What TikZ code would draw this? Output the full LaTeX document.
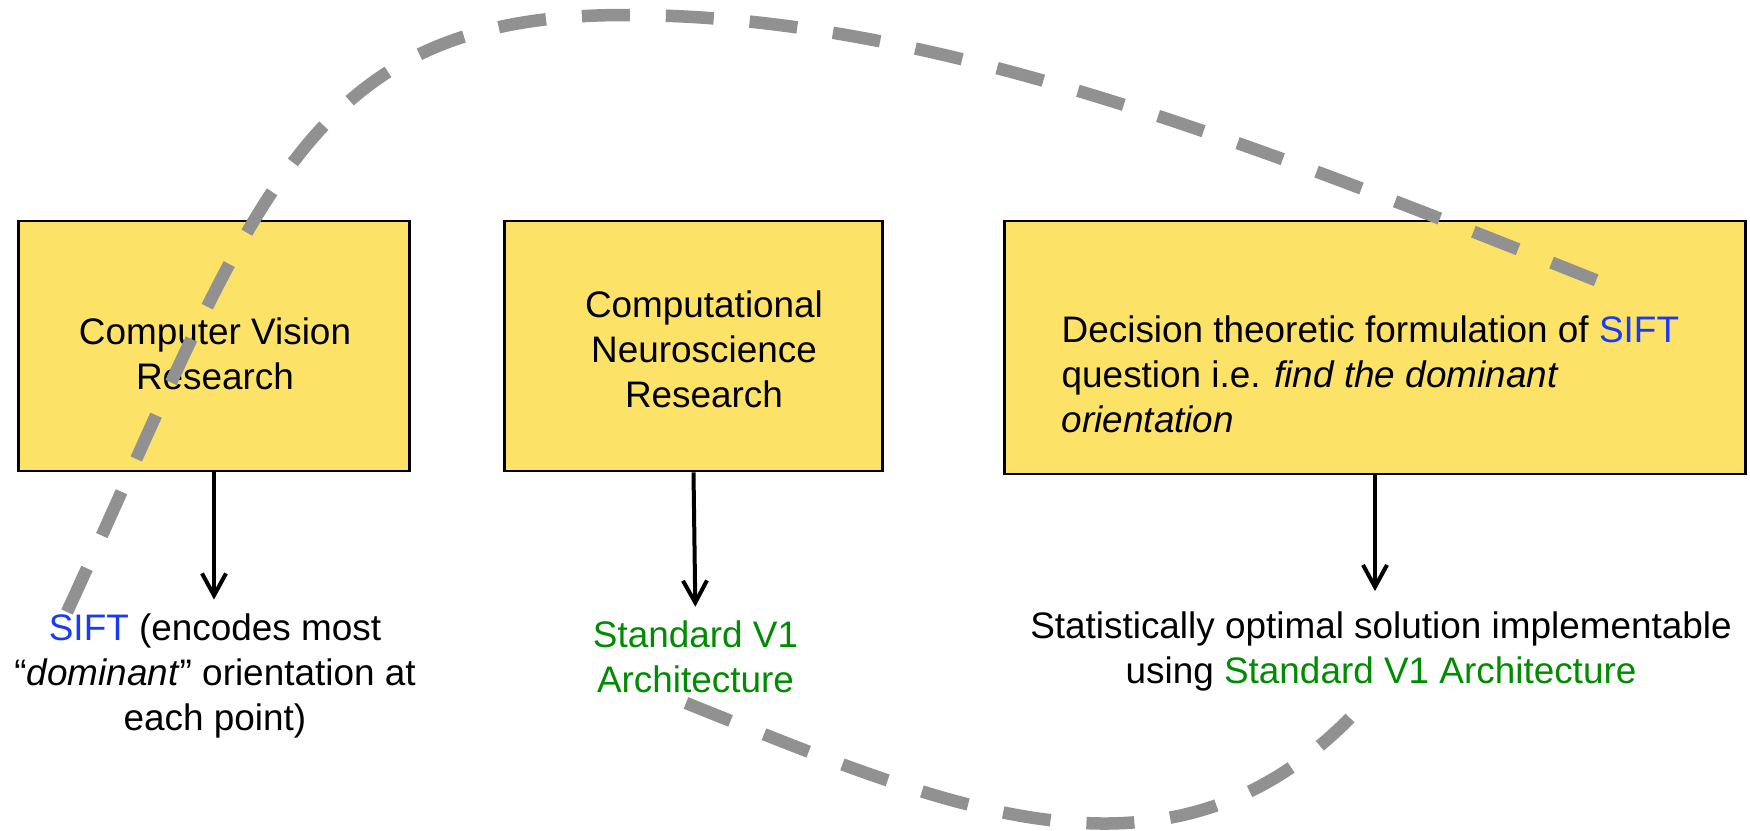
\documentclass[tikz,border=0pt]{standalone}
\usepackage{fontspec}
\setmainfont{Liberation Sans}
\usetikzlibrary{arrows.meta,positioning}
\definecolor{BoxYellow}{RGB}{252,226,102}
\definecolor{SiftBlue}{RGB}{26,58,250}
\definecolor{VoneGreen}{RGB}{0,140,0}
\definecolor{LinkGray}{RGB}{145,145,145}
\newcommand{\siftword}{\textcolor{SiftBlue}{SIFT}}
\newcommand{\vonearch}{\textcolor{VoneGreen}{Standard V1 Architecture}}
\tikzset{
  ideabox/.style={draw=black,line width=0.28mm,fill=BoxYellow,minimum height=25mm,inner sep=0pt},
  boxtext/.style={inner sep=0pt,align=center,font=\fontsize{10.5}{12.8}\selectfont},
  notetext/.style={inner sep=0pt,align=center,font=\fontsize{10.5}{12.8}\selectfont},
  flowarrow/.style={-{Straight Barb[length=2.2mm,width=2.4mm]},line width=0.4mm,shorten >=1.3mm},
  linkcurve/.style={draw=LinkGray,line width=1.25mm,dash pattern=on 4.8mm off 3.6mm}
}

\begin{document}
\begin{tikzpicture}[x=0.1mm,y=-0.1mm]
\useasboundingbox (0,0) rectangle (1750,830);
% the three research boxes
\node[ideabox,minimum width=39.1mm] (cvbox) at (214,346) {};
\node[ideabox,minimum width=37.8mm] (neurobox) at (693.5,346) {};
\node[ideabox,minimum width=74.1mm,minimum height=25.3mm] (decbox) at (1375,347.5) {};
\node[boxtext] (cvtext) at (215,354) {Computer Vision\\Research};
\node[boxtext] (neurotext) at (704,349.5) {Computational\\Neuroscience\\Research};
\node[boxtext,align=left,anchor=west] (dectext) at (1061,374.5)
  {Decision theoretic formulation of \siftword\\question i.e. \textit{find the dominant}\\\textit{orientation}};
% what each one gives
\node[notetext] (siftnote) at (215,675.5) {\siftword{} (encodes most\\``\textit{dominant}'' orientation at\\each point)};
\node[notetext] (v1note) at (695.5,656.5) {\textcolor{VoneGreen}{Standard V1}\\\textcolor{VoneGreen}{Architecture}};
\node[notetext] (optnote) at (1381,651.5) {Statistically optimal solution implementable\\using \vonearch};
\draw[flowarrow] (cvbox.south) -- (cvbox.south |- siftnote.north);
\draw[flowarrow] (neurobox.south) -- (v1note.north);
\draw[flowarrow,shorten >=2mm] (decbox.south) -- (decbox.south |- optnote.north);
% dashed links on top
\coordinate (topstart) at (67,612);
\coordinate (toppeak) at (625,15);
\coordinate (topend) at (1603,283);
\draw[linkcurve] (topstart) .. controls (256,202) and (300,15) .. (toppeak)
  .. controls (925,15) and (1231,135) .. (topend);
\coordinate (lowstart) at (686,703);
\coordinate (lowend) at (1350,718);
\draw[linkcurve] (lowstart) .. controls (946,807) and (1165,905) .. (lowend);
\end{tikzpicture}
\end{document}
